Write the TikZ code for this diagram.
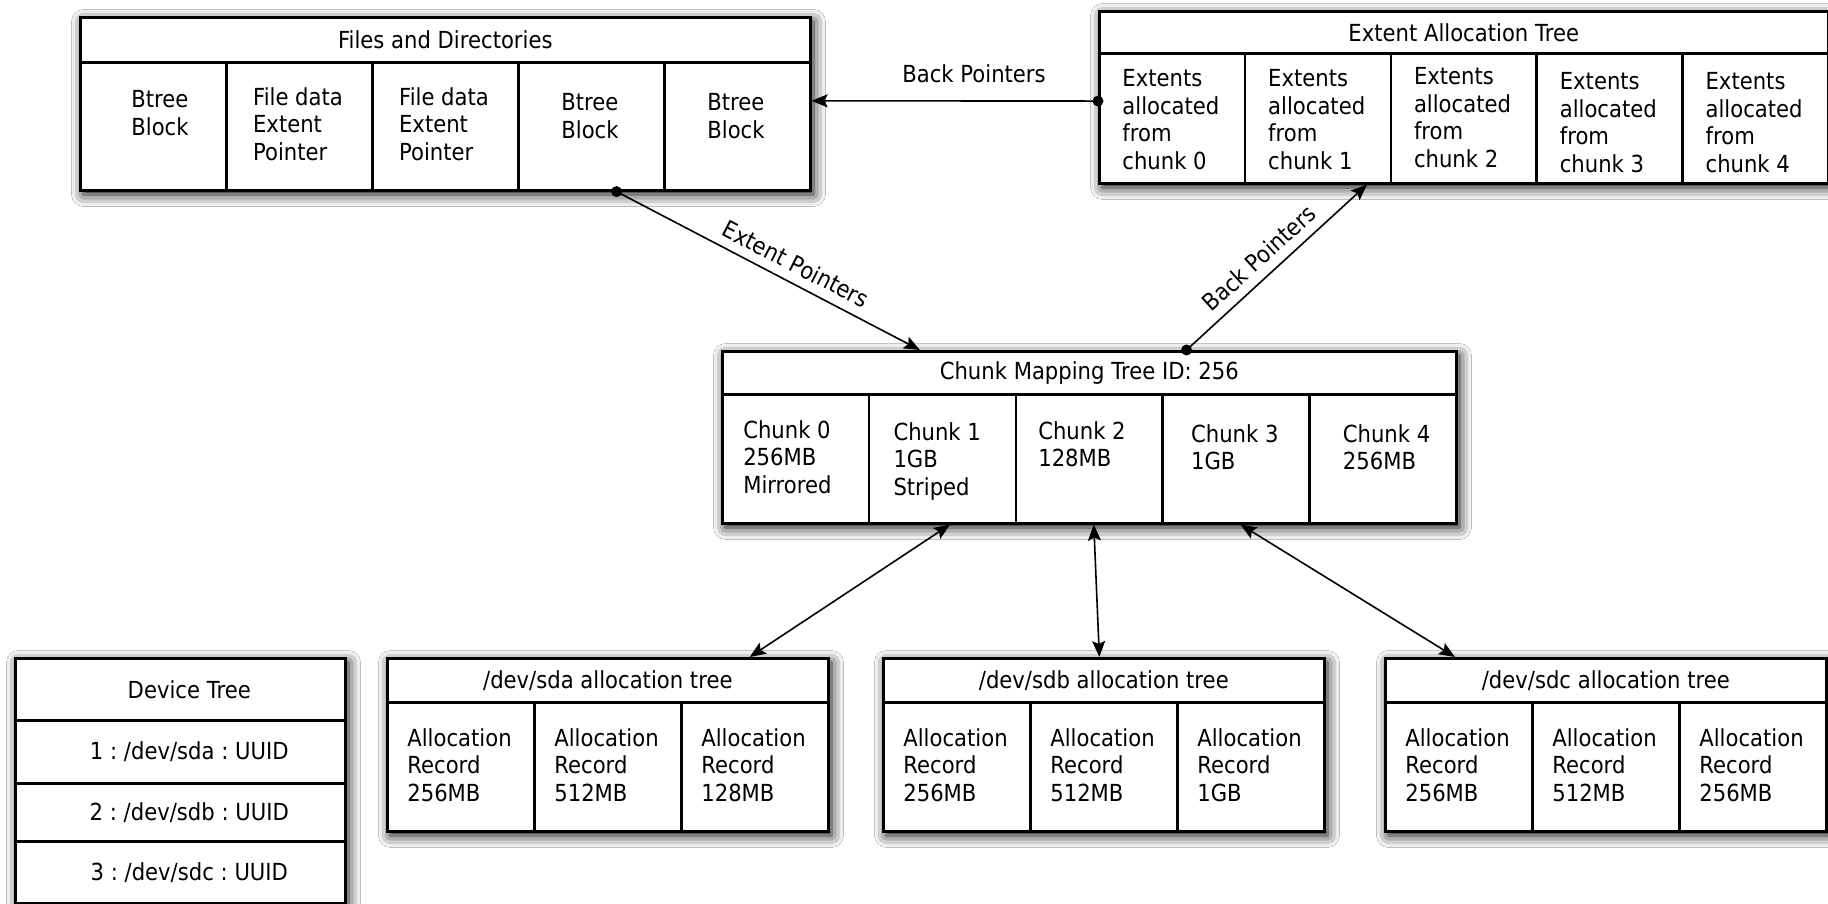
\documentclass[tikz,border=0pt]{standalone}
\usepackage{fontspec}
\setmainfont{DejaVu Sans}[FakeStretch=0.9]
\usetikzlibrary{arrows.meta,calc,shadows.blur}
\frenchspacing
\begin{document}
\begin{tikzpicture}[x=0.5pt,y=-0.5pt,
  txt/.style={font=\fontsize{11.75pt}{13.85pt}\selectfont\frenchspacing},
  box/.style={draw, line width=1.5pt, fill=white, anchor=north west, inner sep=0pt,
    blur shadow={shadow xshift=1.5pt, shadow yshift=-2pt, shadow blur radius=6pt, shadow opacity=100}},
  hdr/.style={draw, line width=1.3pt, anchor=north west, inner sep=0pt, txt},
  cell/.style={draw, line width=1.3pt, anchor=north west, inner sep=0pt},
  ctext/.style={anchor=north, align=left, inner sep=0pt, txt},
  lbl/.style={inner sep=0pt, txt},
  conn/.style={line width=0.8pt, -{Stealth[length=8pt,width=6.5pt,inset=1.5pt]}},
  both/.style={line width=0.8pt, {Stealth[length=8pt,width=6.5pt,inset=1.5pt]}-{Stealth[length=8pt,width=6.5pt,inset=1.5pt]}},
  dot/.style={circle, fill=black, inner sep=0pt, minimum size=5.5pt}
]
\fill[white] (0,0) rectangle (1828,904);
\useasboundingbox (0,0) rectangle (1828,904);

% ---------- Files and Directories ----------
\node[box, minimum width=365pt, minimum height=86.5pt] (files) at (79,16) {};
\node[hdr, minimum width=365pt, minimum height=22.5pt] (filesH) at (79,16) {Files and Directories};
\foreach \i/\dx/\dy/\t in {0/8/90/{Btree\\Block},1/0/87/{File data\\Extent\\Pointer},2/0/87/{File data\\Extent\\Pointer},3/0/93/{Btree\\Block},4/0/93/{Btree\\Block}}{
  \node[cell, minimum width=73pt, minimum height=64pt] (files\i) at ({79+146*\i},61) {};
  \node[ctext] (filesT\i) at ({79+146*\i+73+\dx},\dy) {\t};
}

% ---------- Extent Allocation Tree ----------
\node[box, minimum width=364.5pt, minimum height=86pt] (eat) at (1098,10) {};
\node[hdr, minimum width=364.5pt, minimum height=21pt] (eatH) at (1098,10) {Extent Allocation Tree};
\foreach \i/\dy in {0/69,1/69,2/67,3/72,4/72}{
  \node[cell, minimum width=72.9pt, minimum height=65pt] (eat\i) at ({1098+145.8*\i},52) {};
  \node[ctext] (eatT\i) at ({1098+145.8*\i+72.9},\dy) {Extents\\allocated\\from\\chunk \i};
}

% ---------- Chunk Mapping Tree ----------
\node[box, minimum width=367pt, minimum height=86pt] (chunk) at (721,350) {};
\node[hdr, minimum width=367pt, minimum height=21.5pt] (chunkH) at (721,350) {Chunk Mapping Tree ID: 256};
\foreach \i/\dx/\dy/\t in {0/-7/420/{Chunk 0\\256MB\\Mirrored},1/-4/422/{Chunk 1\\1GB\\Striped},2/-6/421/{Chunk 2\\128MB},3/0/424/{Chunk 3\\1GB},4/5/424/{Chunk 4\\256MB}}{
  \node[cell, minimum width=73.4pt, minimum height=64.5pt] (chunk\i) at ({721+146.8*\i},393) {};
  \node[ctext] (chunkT\i) at ({721+146.8*\i+73.4+\dx},\dy) {\t};
}

% ---------- allocation trees ----------
\foreach \n/\x/\a/\b/\c in {sda/386/256MB/512MB/128MB, sdb/882/256MB/512MB/1GB, sdc/1384/256MB/512MB/256MB}{
  \node[box, minimum width=220.5pt, minimum height=86.5pt] (\n) at (\x,657) {};
  \node[hdr, minimum width=220.5pt, minimum height=22pt] (\n H) at (\x,657) {/dev/\n\ allocation tree};
  \foreach \j/\r in {0/\a,1/\b,2/\c}{
    \node[cell, minimum width=73.5pt, minimum height=64.5pt] (\n\j) at ({\x+147*\j},701) {};
    \node[ctext] (\n T\j) at ({\x+147*\j+73.5},728) {Allocation\\Record\\\r};
  }
}

% ---------- Device Tree ----------
\node[box, minimum width=165pt, minimum height=122.5pt] (dev) at (14,657) {};
\node[hdr, minimum width=165pt, minimum height=31pt] (devH) at (14,657) {};
\node[hdr, minimum width=165pt, minimum height=31.5pt] (dev1) at (14,719) {};
\node[hdr, minimum width=165pt, minimum height=29pt] (dev2) at (14,782) {};
\node[hdr, minimum width=165pt, minimum height=31pt] (dev3) at (14,840) {};
\node[lbl, xshift=4.5pt] (devHT) at (devH.center) {Device Tree};
\node[lbl, xshift=4.5pt] (dev1T) at (dev1.center) {1 : /dev/sda : UUID};
\node[lbl, xshift=4.5pt] (dev2T) at (dev2.center) {2 : /dev/sdb : UUID};
\node[lbl, xshift=4.5pt] (dev3T) at (dev3.center) {3 : /dev/sdc : UUID};

% ---------- connectors ----------
\coordinate (bpA) at ($(eat0.north west)!0.37!(eat0.south west)$);
\coordinate (bpB) at ($(files4.north east)!0.305!(files4.south east)$);
\draw[conn] (bpA) -- (bpB);
\node[dot] (bpAdot) at (bpA) {};
\node[lbl] (lblBP1) at (974,74) {Back Pointers};

\coordinate (epA) at ($(files3.south west)!0.67!(files3.south east)$);
\coordinate (epB) at ($(chunkH.north west)!0.27!(chunkH.north east)$);
\draw[conn] (epA) -- (epB);
\node[dot] (epAdot) at (epA) {};
\node[lbl, rotate=-27.3] (lblEP) at (796,264) {Extent Pointers};

\coordinate (bqA) at ($(chunkH.north west)!0.632!(chunkH.north east)$);
\coordinate (bqB) at ($(eat1.south west)!0.83!(eat1.south east)$);
\draw[conn] (bqA) -- (bqB);
\node[dot] (bqAdot) at (bqA) {};
\node[lbl, rotate=42.2] (lblBP2) at (1259,258) {Back Pointers};

\draw[both] ($(chunk1.south west)!0.55!(chunk1.south east)$) -- ($(sdaH.north west)!0.82!(sdaH.north east)$);
\draw[both] ($(chunk2.south west)!0.53!(chunk2.south east)$) -- ($(sdbH.north west)!0.49!(sdbH.north east)$);
\draw[both] ($(chunk3.south west)!0.53!(chunk3.south east)$) -- ($(sdcH.north west)!0.16!(sdcH.north east)$);
\end{tikzpicture}
\end{document}
